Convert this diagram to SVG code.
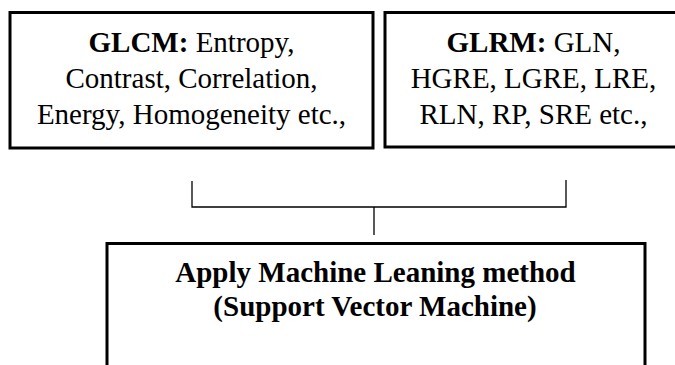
<svg xmlns="http://www.w3.org/2000/svg" width="675" height="365" viewBox="0 0 675 365">
<style>
.box{fill:#fff;stroke:#000;stroke-width:3}
.t{font-family:"Liberation Serif","Times New Roman",serif;font-size:29px;fill:#000;text-anchor:middle}
.b{font-weight:bold}
.c{fill:none;stroke:#000;stroke-width:1.3}
</style>
<rect width="675" height="365" fill="#fff"/>
<g id="glcm">
<rect class="box" x="10" y="12.5" width="363" height="135.5"/>
<text class="t" x="191.5" y="52"><tspan class="b">GLCM:</tspan> Entropy,</text>
<text class="t" x="191.5" y="88">Contrast, Correlation,</text>
<text class="t" x="191.5" y="124">Energy, Homogeneity etc.,</text>
</g>
<g id="glrm">
<rect class="box" x="385" y="12.5" width="310" height="134.5"/>
<text class="t" x="533.5" y="52"><tspan class="b">GLRM:</tspan> GLN,</text>
<text class="t" x="533.5" y="88">HGRE, LGRE, LRE,</text>
<text class="t" x="533.5" y="124">RLN, RP, SRE etc.,</text>
</g>
<g id="svm">
<rect class="box" x="107" y="243.5" width="538" height="140"/>
<text class="t b" x="375.5" y="282">Apply Machine Leaning method</text>
<text class="t b" x="375" y="316">(Support Vector Machine)</text>
</g>
<g id="connectors">
<path class="c" d="M192 181V207H566V180M374 207V235"/>
</g>
</svg>
